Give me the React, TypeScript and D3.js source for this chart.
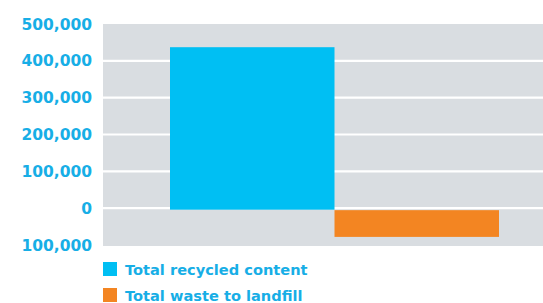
import React from "react";
import * as d3 from "d3";

// values
const categories = ["Total recycled content", "Total waste to landfill"];
const values = [437000, -78000];
const colors = ["#00BFF3", "#F38522"];
const ticks = [-100000, 0, 100000, 200000, 300000, 400000, 500000];

const W = 543;
const H = 303;
const margin = { top: 24, right: 0, bottom: 58, left: 103 };
const TEXT = "#17AEE6";
const FONT = "'DejaVu Sans', sans-serif";

const App = () => {
  const ref = React.useRef<SVGSVGElement>(null);

  React.useEffect(() => {
    const svg = d3.select(ref.current);
    svg.selectAll("*").remove();

    const plotW = W - margin.left - margin.right;
    const plotH = H - margin.top - margin.bottom;

    const y = d3.scaleLinear().domain([-100000, 500000]).range([plotH, 0]);
    const x = d3.scaleBand().domain(categories).range([67, 396]).padding(0);

    const g = svg.append("g").attr("transform", `translate(${margin.left},${margin.top})`);

    g.append("rect")
      .attr("width", plotW)
      .attr("height", plotH + 1)
      .attr("fill", "#D9DDE1");

    // white grid lines
    g.selectAll("line.grid")
      .data(ticks.filter((t) => t > -100000 && t < 500000))
      .enter()
      .append("line")
      .attr("class", "grid")
      .attr("x1", 0)
      .attr("x2", plotW)
      .attr("y1", (d) => y(d))
      .attr("y2", (d) => y(d))
      .attr("stroke", "#fff")
      .attr("stroke-width", 2.2);

    g.selectAll("rect.bar")
      .data(values)
      .enter()
      .append("rect")
      .attr("class", "bar")
      .attr("x", (d, i) => x(categories[i])!)
      .attr("width", x.bandwidth())
      .attr("y", (d) => (d >= 0 ? y(d) : y(0) + 2))
      .attr("height", (d) => (d >= 0 ? y(0) - y(d) + 1.5 : y(d) - y(0) - 2))
      .attr("fill", (d, i) => colors[i]);

    // y labels
    g.selectAll("text.tick")
      .data(ticks)
      .enter()
      .append("text")
      .attr("class", "tick")
      .attr("x", -11)
      .attr("y", (d) => y(d))
      .attr("dy", "0.36em")
      .attr("text-anchor", "end")
      .style("font-family", FONT)
      .style("font-weight", "bold")
      .style("font-size", "15.5px")
      .style("fill", TEXT)
      .text((d) => d3.format(",")(Math.abs(d)));

    // legend
    const leg = svg.append("g").attr("transform", "translate(103,262)");
    categories.forEach((c, i) => {
      const row = leg.append("g").attr("transform", `translate(0,${i * 26})`);
      row.append("rect").attr("width", 14).attr("height", 14).attr("fill", colors[i]);
      row.append("text")
        .attr("x", 22)
        .attr("y", 13)
        .style("font-family", FONT)
        .style("font-weight", "bold")
        .style("font-size", "14.6px")
        .style("fill", TEXT)
        .text(c);
    });
  }, []);

  return (
    <svg
      ref={ref}
      width={W}
      height={H}
      style={{ position: "absolute", left: 0, top: 0, background: "#fff" }}
    />
  );
};

export default App;
